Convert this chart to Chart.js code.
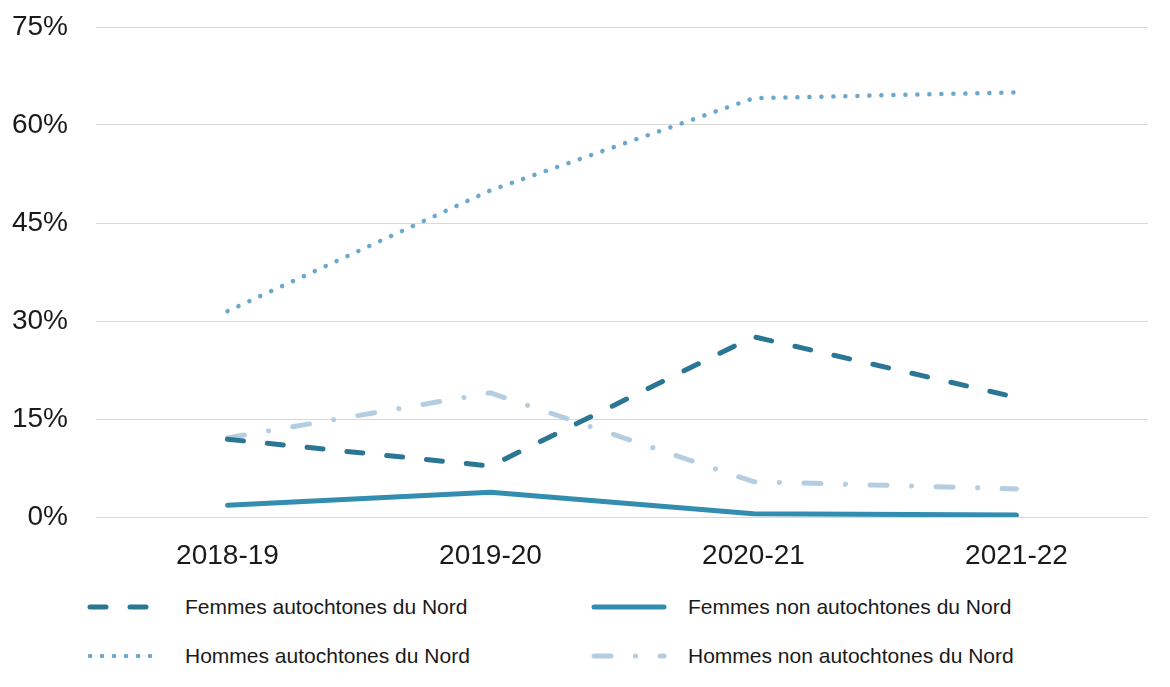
<!DOCTYPE html>
<html>
<head>
<meta charset="utf-8">
<script src="https://cdn.jsdelivr.net/npm/chart.js@4"></script>
<style>
  body { margin: 0; background: #fff; font-family: "Liberation Sans", Arial, sans-serif; }
  #wrap { position: relative; width: 1170px; height: 575px; }
  #legend { position: relative; width: 1170px; height: 112px; }
  .item { position: absolute; height: 30px; }
  .item canvas { position: absolute; left: 0; top: 0; }
  .item span { position: absolute; top: 2px; font-size: 21px; color: #1a1a1a; white-space: nowrap; line-height: 26px; }
</style>
</head>
<body>
<div id="wrap"><canvas id="chart"></canvas></div>
<div id="legend"></div>
<script>
// data
const years = ['2018-19', '2019-20', '2020-21', '2021-22'];
const femmesAuto = [11.9, 7.8, 27.6, 18.3];
const femmesNonAuto = [1.8, 3.8, 0.5, 0.3];
const hommesAuto = [31.5, 50.0, 64.1, 65.0];
const hommesNonAuto = [12.1, 19.0, 5.4, 4.3];
const yTicks = [0, 15, 30, 45, 60, 75];

const FONT = '"Liberation Sans", Arial, sans-serif';

const series = [
  { label: 'Femmes autochtones du Nord', data: femmesAuto, color: '#2b7695', width: 5, dash: [16, 24] },
  { label: 'Femmes non autochtones du Nord', data: femmesNonAuto, color: '#338db0', width: 5, dash: [] },
  { label: 'Hommes autochtones du Nord', data: hommesAuto, color: '#6aa8cc', width: 4.5, dash: [0.1, 11.9] },
  { label: 'Hommes non autochtones du Nord', data: hommesNonAuto, color: '#b5cde0', width: 5, dash: [17, 24.5, 0.1, 24.5] }
];

const ctx = document.getElementById('chart').getContext('2d');

const chart = new Chart(ctx, {
  type: 'line',
  data: {
    labels: years,
    datasets: series.map(s => ({
      label: s.label,
      data: s.data,
      borderColor: s.color,
      borderWidth: s.width,
      borderDash: s.dash,
      borderCapStyle: 'round',
      borderJoinStyle: 'round',
      pointRadius: 0,
      tension: 0,
      fill: false
    }))
  },
  options: {
    responsive: true,
    maintainAspectRatio: false,
    animation: false,
    layout: { padding: { left: 12, right: 22, top: 27, bottom: 4 } },
    plugins: {
      legend: { display: false },
      tooltip: { enabled: false }
    },
    scales: {
      x: {
        offset: true,
        grid: { display: false, drawTicks: false },
        border: { display: false },
        afterFit: axis => { axis.height = 54; },
        ticks: { color: '#1a1a1a', font: { family: FONT, size: 28 }, padding: 22, maxRotation: 0 }
      },
      y: {
        min: 0,
        max: 75,
        afterBuildTicks: axis => { axis.ticks = yTicks.map(v => ({ value: v })); },
        afterFit: axis => { axis.width = 84; axis.paddingTop = 0; axis.paddingBottom = 0; },
        grid: { color: '#d9d9d9', lineWidth: 1, drawTicks: false },
        border: { display: false },
        ticks: { color: '#1a1a1a', font: { family: FONT, size: 28 }, padding: 28, callback: v => v + '%' }
      }
    }
  }
});

// legend, two columns
const legend = document.getElementById('legend');
series.forEach((s, i) => {
  const col = i % 2, row = Math.floor(i / 2);
  const item = document.createElement('div');
  item.className = 'item';
  item.style.left = (col === 0 ? 84 : 588) + 'px';
  item.style.top = (row === 0 ? 17 : 66) + 'px';
  const c = document.createElement('canvas');
  c.width = 80; c.height = 30;
  const g = c.getContext('2d');
  g.strokeStyle = s.color;
  g.lineWidth = s.width;
  g.lineCap = 'round';
  g.setLineDash(s.dash);
  g.beginPath();
  g.moveTo(6, 15);
  g.lineTo(col === 0 ? 66 : 76, 15);
  g.stroke();
  item.appendChild(c);
  const t = document.createElement('span');
  t.textContent = s.label;
  t.style.left = (col === 0 ? 101 : 100) + 'px';
  item.appendChild(t);
  legend.appendChild(item);
});
</script>
</body>
</html>
